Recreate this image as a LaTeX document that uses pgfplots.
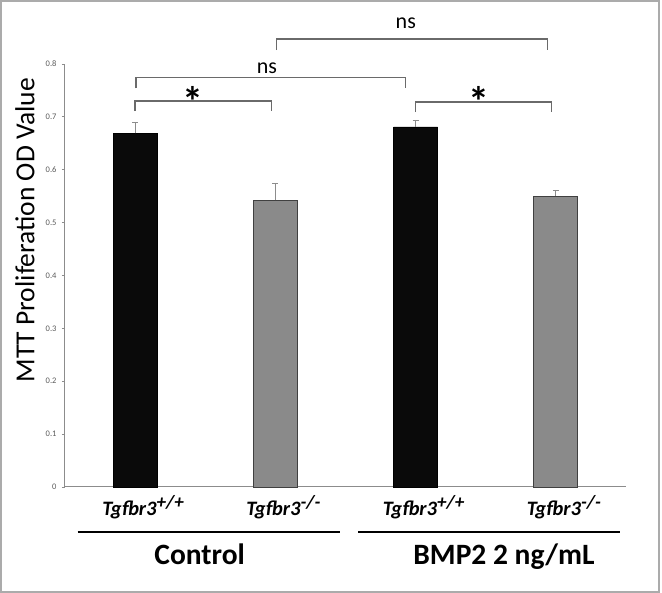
\documentclass[border=0pt]{standalone}
\usepackage{pgfplots}
\pgfplotsset{compat=1.18}
\usepackage{fontspec}
\setmainfont{Carlito}
\definecolor{axgray}{HTML}{8C8C8C}
\definecolor{tickgray}{HTML}{5A5A5A}
\definecolor{bargray}{HTML}{8A8A8A}
\definecolor{brgray}{HTML}{6A6A6A}
\definecolor{framegray}{HTML}{ABABAB}
\newcommand{\tg}[1]{\textbf{\textit{Tgfbr3}\raisebox{7pt}{\fontsize{19}{19}\selectfont\textbf{\textit{#1}}}}}
\begin{document}
\begin{tikzpicture}
\begin{axis}[
  at={(0pt,0pt)}, anchor=south west,
  scale only axis, width=561pt, height=423pt,
  xmin=-0.5, xmax=3.5, ymin=0, ymax=0.8,
  axis x line=bottom, axis y line=left,
  axis line style={-, axgray, line width=1pt},
  clip=false,
  ytick={0,0.1,0.2,0.3,0.4,0.5,0.6,0.7,0.8},
  yticklabel style={font=\fontsize{8.5}{9}\selectfont, text=tickgray, xshift=-2pt},
  /pgf/number format/assume math mode=true,
  tick align=outside,
  major tick length=3pt,
  tick style={axgray, line width=0.8pt},
  xtick={0,1,2,3},
  xticklabels={{\tg{+/+}},{\tg{-/-}},{\tg{+/+}},{\tg{-/-}}},
  xticklabel style={font=\fontsize{20.5}{22}\selectfont, anchor=base, yshift=-26pt, xshift=8pt},
  x tick style={draw=none},
  extra x ticks={0.5,1.5,2.5,3.5},
  extra x tick labels={},
  extra x tick style={tick style={axgray, line width=0.8pt, draw=axgray}, major tick length=4pt},
  ylabel={MTT Proliferation OD Value},
  ylabel style={font=\fontsize{27.5}{29}\selectfont, at={(axis description cs:0,0.607)}, anchor=center, yshift=40pt},
  ybar, bar width=44pt, bar shift=0pt,
]
\addplot[fill=black!96, draw=black, line width=0.6pt,
  error bars/.cd, y dir=plus, y explicit,
  error bar style={axgray, line width=1.1pt},
  error mark options={rotate=90, axgray, mark size=3pt, line width=1.1pt}]
  coordinates {(0,0.669) +- (0,0.021) (2,0.681) +- (0,0.012)};
\addplot[fill=bargray, draw=black!75, line width=0.8pt,
  error bars/.cd, y dir=plus, y explicit,
  error bar style={axgray, line width=1.1pt},
  error mark options={rotate=90, axgray, mark size=3pt, line width=1.1pt}]
  coordinates {(1,0.5425) +- (0,0.032) (3,0.550) +- (0,0.011)};
% brackets
\draw[brgray, line width=1.3pt] (axis cs:0,0.711) -- (axis cs:0,0.730) -- (axis cs:0.97,0.730) -- (axis cs:0.97,0.711);
\draw[brgray, line width=1.3pt] (axis cs:0.007,0.754) -- (axis cs:0.007,0.775) -- (axis cs:1.93,0.775) -- (axis cs:1.93,0.754);
\draw[brgray, line width=1.3pt] (axis cs:1.01,0.826) -- (axis cs:1.01,0.847) -- (axis cs:2.94,0.847) -- (axis cs:2.94,0.826);
\draw[brgray, line width=1.3pt] (axis cs:2.0,0.709) -- (axis cs:2.0,0.728) -- (axis cs:2.97,0.728) -- (axis cs:2.97,0.709);
\node[font=\fontsize{42}{42}\selectfont\bfseries, anchor=base] at (axis cs:0.41,0.700) {*};
\node[font=\fontsize{42}{42}\selectfont\bfseries, anchor=base] at (axis cs:2.45,0.700) {*};
\node[font=\fontsize{22}{22}\selectfont, anchor=base] at (axis cs:0.94,0.782) {ns};
\node[font=\fontsize{22}{22}\selectfont, anchor=base] at (axis cs:1.93,0.867) {ns};
% group lines and labels
\draw[black, line width=1.8pt] (axis cs:-0.41,-0.085) -- (axis cs:1.46,-0.085);
\draw[black, line width=1.8pt] (axis cs:1.59,-0.085) -- (axis cs:3.46,-0.085);
\node[font=\fontsize{29.5}{30}\selectfont\bfseries, anchor=base] at (axis cs:0.46,-0.147) {Control};
\node[font=\fontsize{29.5}{30}\selectfont\bfseries, anchor=base] at (axis cs:2.63,-0.147) {BMP2 2 ng/mL};
\end{axis}
\draw[framegray, line width=2pt] (-64pt,-105pt) rectangle (594pt,486pt);
\pgfresetboundingbox
\path[use as bounding box] (-65pt,-106pt) rectangle (597pt,487pt);
\end{tikzpicture}
\end{document}
